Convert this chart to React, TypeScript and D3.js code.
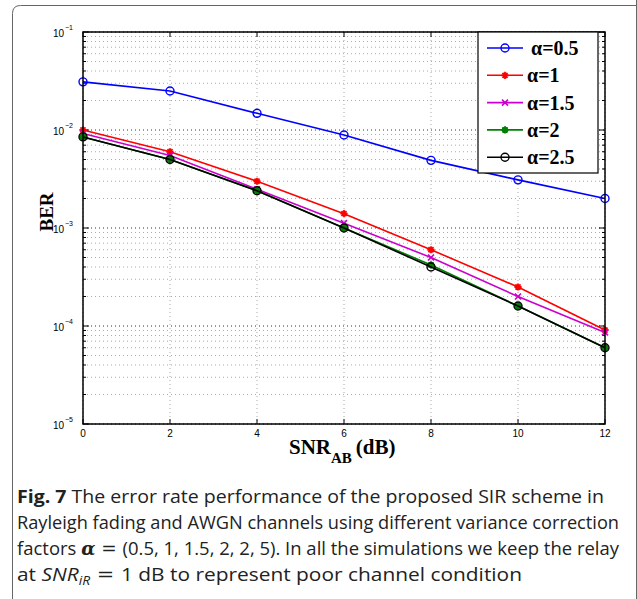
import React from "react";
import * as d3 from "d3";

const snr = [0, 2, 4, 6, 8, 10, 12];
const berA05 = [0.031, 0.025, 0.0148, 0.0089, 0.0049, 0.0031, 0.002];
const berA1 = [0.01, 0.006, 0.003, 0.0014, 0.0006, 0.00025, 0.000091];
const berA15 = [0.0092, 0.0055, 0.00248, 0.00112, 0.0005, 0.0002, 0.000086];
const berA2 = [0.0085, 0.005, 0.0024, 0.001, 0.00042, 0.00016, 0.00006];
const berA25 = [0.0085, 0.005, 0.0024, 0.001, 0.0004, 0.00016, 0.00006];
const xTicks = [0, 2, 4, 6, 8, 10, 12];
const yDecades = [-5, -4, -3, -2, -1];
const legendLabels = ["α=0.5", "α=1", "α=1.5", "α=2", "α=2.5"];
const captionLines = [
  "The error rate performance of the proposed SIR scheme in",
  "Rayleigh fading and AWGN channels using different variance correction",
];

const W = 637, H = 599;
const L = 83, R = 605, T = 32, B = 424;

type Series = { name: string; values: number[]; color: string; marker: string };
const series: Series[] = [
  { name: legendLabels[0], values: berA05, color: "#0000ff", marker: "circle" },
  { name: legendLabels[1], values: berA1, color: "#ff0000", marker: "star" },
  { name: legendLabels[2], values: berA15, color: "#cc00cc", marker: "x" },
  { name: legendLabels[3], values: berA2, color: "#008000", marker: "starfill" },
  { name: legendLabels[4], values: berA25, color: "#000000", marker: "circle" },
];

function Marker({ type, x, y, color }: { type: string; x: number; y: number; color: string }) {
  if (type === "circle")
    return <circle cx={x} cy={y} r={4} fill="none" stroke={color} strokeWidth={1.4} />;
  if (type === "x") {
    const s = 3;
    return (
      <path d={`M${x - s},${y - s}L${x + s},${y + s}M${x - s},${y + s}L${x + s},${y - s}`} stroke={color} strokeWidth={1.6} />
    );
  }
  const s = 3.6;
  const d = `M${x - s},${y}L${x + s},${y}M${x},${y - s}L${x},${y + s}M${x - s * 0.7},${y - s * 0.7}L${x + s * 0.7},${y + s * 0.7}M${x - s * 0.7},${y + s * 0.7}L${x + s * 0.7},${y - s * 0.7}`;
  return (
    <g>
      {type === "starfill" && <circle cx={x} cy={y} r={3.2} fill={color} />}
      <path d={d} stroke={color} strokeWidth={1.8} />
    </g>
  );
}

export default function App() {
  const x = d3.scaleLinear().domain([0, 12]).range([L, R]);
  const y = d3.scaleLog().domain([1e-5, 1e-1]).range([B, T]);
  const line = d3
    .line<[number, number]>()
    .x((d) => x(d[0]))
    .y((d) => y(d[1]));

  const minor: number[] = [];
  yDecades.slice(0, -1).forEach((e) => {
    for (let k = 2; k <= 9; k++) minor.push(k * Math.pow(10, e));
  });

  const legX = 478, legY = 32, legW = 120, legH = 141;
  const tickFont = "'Liberation Sans', Arial, sans-serif";
  const serif = "'Liberation Serif', 'Times New Roman', serif";

  return (
    <svg width={W} height={H} style={{ position: "absolute", left: 0, top: 0, background: "#fff" }}>
      <rect x={0} y={0} width={W} height={H} fill="#fff" />
      <path d={`M12.5,${H + 5}L12.5,13.5Q12.5,5.5 20.5,5.5L${W + 5},5.5`} fill="none" stroke="#666" strokeWidth={1} />
      <line x1={636.5} y1={0} x2={636.5} y2={H} stroke="#666" strokeWidth={1} />

      {/* grid */}
      {minor.map((v, i) => (
        <line key={"mg" + i} x1={L} x2={R} y1={y(v)} y2={y(v)} stroke="#aaa" strokeWidth={1} strokeDasharray="1,3" />
      ))}
      {yDecades.map((e) => (
        <line key={"Mg" + e} x1={L} x2={R} y1={y(Math.pow(10, e))} y2={y(Math.pow(10, e))} stroke="#333" strokeWidth={1} strokeDasharray="1,3" />
      ))}
      {xTicks.map((t) => (
        <line key={"xg" + t} x1={x(t)} x2={x(t)} y1={T} y2={B} stroke="#aaa" strokeWidth={1} strokeDasharray="1,3" />
      ))}

      {/* ticks */}
      {minor.map((v, i) => (
        <g key={"mt" + i} stroke="#000" strokeWidth={1}>
          <line x1={L} x2={L + 3} y1={y(v)} y2={y(v)} />
          <line x1={R} x2={R - 3} y1={y(v)} y2={y(v)} />
        </g>
      ))}
      {yDecades.map((e) => (
        <g key={"Mt" + e} stroke="#000" strokeWidth={1}>
          <line x1={L} x2={L + 6} y1={y(Math.pow(10, e))} y2={y(Math.pow(10, e))} />
          <line x1={R} x2={R - 6} y1={y(Math.pow(10, e))} y2={y(Math.pow(10, e))} />
        </g>
      ))}
      {xTicks.map((t) => (
        <g key={"xt" + t} stroke="#000" strokeWidth={1}>
          <line x1={x(t)} x2={x(t)} y1={B} y2={B - 5} />
          <line x1={x(t)} x2={x(t)} y1={T} y2={T + 5} />
        </g>
      ))}

      {/* series */}
      {series.map((s) => (
        <g key={s.name}>
          <path d={line(snr.map((v, i) => [v, s.values[i]] as [number, number])) || ""} fill="none" stroke={s.color} strokeWidth={1.6} />
          {snr.map((v, i) => (
            <Marker key={i} type={s.marker} x={x(v)} y={y(s.values[i])} color={s.color} />
          ))}
        </g>
      ))}

      {/* axes box */}
      <rect x={L} y={T} width={R - L} height={B - T} fill="none" stroke="#000" strokeWidth={1.5} />

      {/* tick labels */}
      {xTicks.map((t) => (
        <text key={"xl" + t} x={x(t)} y={B + 13} textAnchor="middle" fontFamily={tickFont} fontSize={10}>
          {t}
        </text>
      ))}
      {yDecades.map((e) => (
        <text key={"yl" + e} x={L - 10} y={y(Math.pow(10, e)) + 5} textAnchor="end" fontFamily={tickFont} fontSize={10}>
          10
          <tspan dx={1} dy={-7} fontSize={7}>
            {"\u2212" + Math.abs(e)}
          </tspan>
        </text>
      ))}

      {/* axis labels */}
      <text transform={`translate(53,212) rotate(-90)`} textAnchor="middle" fontFamily={serif} fontWeight="bold" fontSize={19}>
        BER
      </text>
      <text x={289} y={454} fontFamily={serif} fontWeight="bold" fontSize={21}>
        SNR
        <tspan dy={9} fontSize={15}>AB</tspan>
        <tspan dx={4} dy={-9}>(dB)</tspan>
      </text>

      {/* legend */}
      <rect x={legX} y={legY} width={legW} height={legH} fill="#fff" stroke="#000" strokeWidth={1.2} />
      {series.map((s, i) => {
        const ly = legY + 16 + i * 27.3;
        return (
          <g key={"lg" + i}>
            <line x1={legX + 9} x2={legX + 45} y1={ly} y2={ly} stroke={s.color} strokeWidth={1.6} />
            <Marker type={s.marker} x={legX + 27} y={ly} color={s.color} />
            <text x={legX + (i === 0 ? 53 : 49)} y={ly + 7} fontFamily={serif} fontWeight="bold" fontSize={20}>
              {s.name}
            </text>
          </g>
        );
      })}

      {/* caption */}
      <g fontFamily="'Open Sans', 'Noto Sans', sans-serif" fontSize={18} fill="#222">
        <text x={17} y={503} textLength={587} lengthAdjust="spacingAndGlyphs">
          <tspan fontWeight="bold">Fig. 7</tspan>
          <tspan> {captionLines[0]}</tspan>
        </text>
        <text x={17} y={529} textLength={602} lengthAdjust="spacingAndGlyphs">{captionLines[1]}</text>
        <text x={17} y={555} textLength={602} lengthAdjust="spacingAndGlyphs">
          factors <tspan fontStyle="italic" fontFamily="'DejaVu Serif', serif" fontWeight="bold">α</tspan>
          <tspan fontFamily="'DejaVu Serif', serif">{" = "}</tspan>(0.5, 1, 1.5, 2, 2, 5). In all the simulations we keep the relay
        </text>
        <text x={17} y={581} textLength={505} lengthAdjust="spacingAndGlyphs">
          at <tspan fontStyle="italic">SNR</tspan>
          <tspan fontStyle="italic" fontSize={12} dy={4}>iR</tspan>
          <tspan dy={-4} fontFamily="'DejaVu Serif', serif">{" = "}</tspan>
          <tspan>1 dB to represent poor channel condition</tspan>
        </text>
      </g>
    </svg>
  );
}
